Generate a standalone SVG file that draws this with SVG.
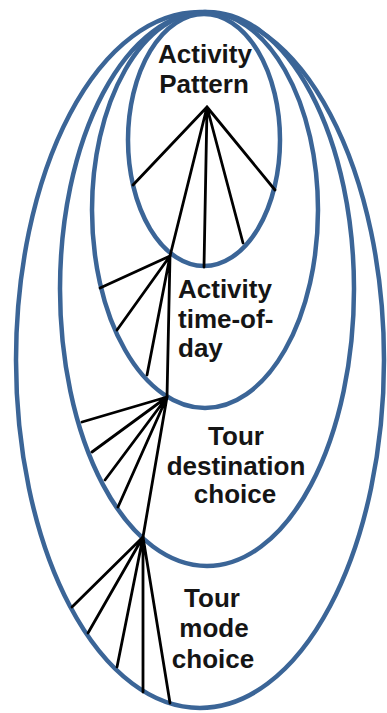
<svg xmlns="http://www.w3.org/2000/svg" width="387" height="713" viewBox="0 0 387 713">
<style>
.ring{fill:none;stroke:#3b6597;stroke-width:4.5}
.ln{stroke:#000;stroke-width:2.8;stroke-linecap:round;fill:none}
.lbl{font-family:"Liberation Sans",Arial,sans-serif;font-weight:bold;font-size:26px;fill:#151515}
</style>
<rect width="387" height="713" fill="#fff"/>
<g id="tour-mode-choice">
<ellipse class="ring" cx="200" cy="360" rx="184" ry="348"/>
<text class="lbl" x="212" y="607" text-anchor="middle">Tour</text>
<text class="lbl" x="214" y="637" text-anchor="middle">mode</text>
<text class="lbl" x="213" y="668" text-anchor="middle">choice</text>
</g>
<g id="tour-destination-choice">
<ellipse class="ring" cx="207" cy="289" rx="147" ry="277"/>
<text class="lbl" x="236" y="445" text-anchor="middle">Tour</text>
<text class="lbl" x="236" y="475" text-anchor="middle">destination</text>
<text class="lbl" x="235" y="503" text-anchor="middle">choice</text>
</g>
<g id="activity-time-of-day">
<ellipse class="ring" cx="205" cy="210" rx="113" ry="198"/>
<text class="lbl" x="178" y="298">Activity</text>
<text class="lbl" x="178" y="328">time-of-</text>
<text class="lbl" x="178" y="357">day</text>
</g>
<g id="activity-pattern">
<ellipse class="ring" cx="204" cy="140" rx="76" ry="126"/>
<text class="lbl" x="205" y="63" text-anchor="middle">Activity</text>
<text class="lbl" x="204" y="93" text-anchor="middle">Pattern</text>
</g>
<g id="connectors">
<path class="ln" d="M207,107 L133,185 M207,107 L275,190 M207,107 L243,243 M207,107 L204,267 M207,107 L170,256"/>
<path class="ln" d="M170,256 L100,288 M170,256 L117,330 M170,256 L147,375 M170,256 L167,397"/>
<path class="ln" d="M167,397 L82,422 M167,397 L92,452 M167,397 L105,480 M167,397 L118,507 M167,397 L143,537"/>
<path class="ln" d="M143,537 L72,607 M143,537 L88,633 M143,537 L117,667 M143,537 L143,692 M143,537 L170,703"/>
</g>
</svg>
